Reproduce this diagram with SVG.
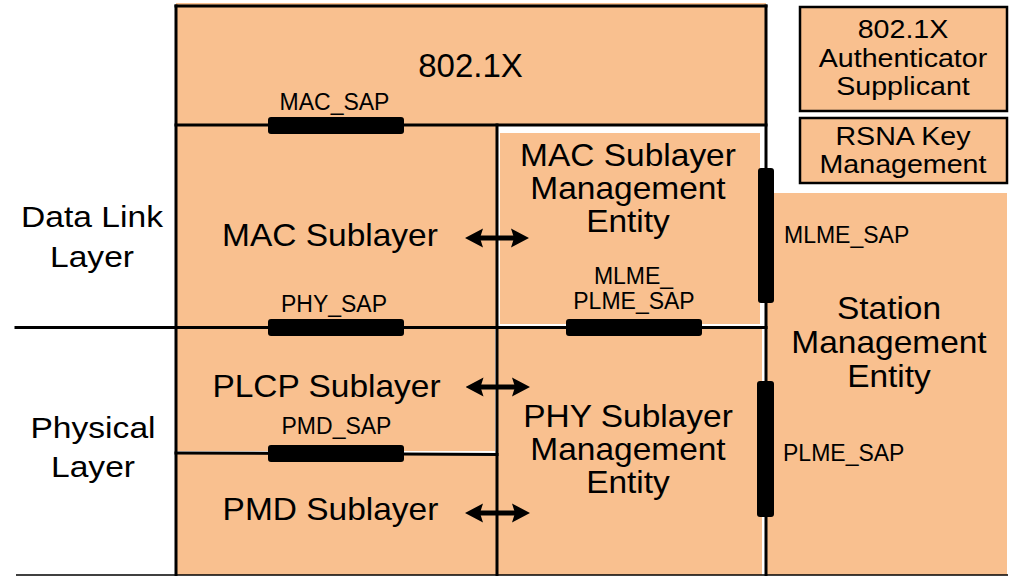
<svg xmlns="http://www.w3.org/2000/svg" width="1010" height="576" viewBox="0 0 1010 576">
<style>
.fill{fill:#F9C08F}
.frame line{stroke:#000;stroke-width:3;stroke-linecap:square}
.box{fill:#F9C08F;stroke:#000;stroke-width:2.5}
text{font-family:"Liberation Sans",Arial,sans-serif;fill:#000;text-anchor:middle}
.big{font-size:31px}
.mid{font-size:26px}
.sm{font-size:23px}
.st{text-anchor:start}
.sap{fill:#000}
.arr{stroke:#000;stroke-width:5;marker-start:url(#ah);marker-end:url(#ah)}
</style>
<defs>
<marker id="ah" markerUnits="userSpaceOnUse" markerWidth="18" markerHeight="20" viewBox="0 0 18 20" refX="8" refY="10" orient="auto-start-reverse">
<path d="M18,10 L0,0.5 L3,10 L0,19.5 Z" fill="#000"/>
</marker>
</defs>
<rect width="1010" height="576" fill="#fff"/>

<g id="dot1x">
<rect class="fill" x="176" y="3" width="590" height="122"/>
<text x="470.5" y="77" style="font-size:33px">802.1X</text>
</g>

<g id="mac-sublayer">
<rect class="fill" x="176" y="125" width="321" height="202"/>
<text class="big" x="330" y="246" transform="matrix(1.08 0 0 1 -26.4 0)">MAC Sublayer</text>
</g>

<g id="mlme">
<rect class="fill" x="500" y="133" width="260" height="191"/>
<text class="big" x="628" transform="matrix(1.08 0 0 1 -50.24 0)"><tspan x="628" y="166.5">MAC Sublayer</tspan><tspan x="628" y="199">Management</tspan><tspan x="628" y="232">Entity</tspan></text>
</g>

<g id="plcp">
<rect class="fill" x="176" y="327" width="319" height="124"/>
<text class="big" x="326.5" y="397" transform="matrix(1.08 0 0 1 -26.12 0)">PLCP Sublayer</text>
</g>

<g id="pmd">
<rect class="fill" x="176" y="453" width="321" height="122"/>
<text class="big" x="330.5" y="520" transform="matrix(1.08 0 0 1 -26.44 0)">PMD Sublayer</text>
</g>

<g id="plme">
<rect class="fill" x="497" y="327" width="265" height="248"/>
<text class="big" x="628" transform="matrix(1.08 0 0 1 -50.24 0)"><tspan x="628" y="427">PHY Sublayer</tspan><tspan x="628" y="460.5">Management</tspan><tspan x="628" y="493">Entity</tspan></text>
</g>

<g id="sme">
<rect class="fill" x="767" y="193" width="240" height="382"/>
<text class="big" x="889" transform="matrix(1.08 0 0 1 -71.12 0)"><tspan x="889" y="319">Station</tspan><tspan x="889" y="353">Management</tspan><tspan x="889" y="387">Entity</tspan></text>
</g>

<g id="auth-supplicant">
<rect class="box" x="800" y="7" width="207" height="104"/>
<text class="mid" x="903" transform="matrix(1.1 0 0 1 -90.3 0)"><tspan x="903" y="38.5">802.1X</tspan><tspan x="903" y="67">Authenticator</tspan><tspan x="903" y="95.5">Supplicant</tspan></text>
</g>

<g id="rsna">
<rect class="box" x="800" y="118" width="207" height="65"/>
<text class="mid" x="903" transform="matrix(1.1 0 0 1 -90.3 0)"><tspan x="903" y="145.5">RSNA Key</tspan><tspan x="903" y="173">Management</tspan></text>
</g>

<g id="layer-labels">
<text style="font-size:30px" x="92" transform="matrix(1.12 0 0 1 -11.04 0)"><tspan x="92" y="227">Data Link</tspan><tspan x="92" y="267">Layer</tspan></text>
<text style="font-size:30px" x="93" transform="matrix(1.12 0 0 1 -11.16 0)"><tspan x="93" y="438">Physical</tspan><tspan x="93" y="477">Layer</tspan></text>
</g>

<g class="frame">
<line x1="176" y1="6" x2="766" y2="6"/>
<line x1="176" y1="6" x2="176" y2="576"/>
<line x1="766" y1="6" x2="766" y2="576"/>
<line x1="176" y1="125" x2="766" y2="125"/>
<line x1="497" y1="125" x2="497" y2="576"/>
<line x1="16" y1="327.5" x2="766" y2="327.5"/>
<line x1="176" y1="453" x2="497" y2="454.5"/>
<line x1="16" y1="575" x2="1008" y2="575" style="stroke-width:1.5;stroke-linecap:butt"/>
</g>

<g id="saps">
<rect class="sap" x="268" y="117" width="136" height="17" rx="3"/>
<text class="sm" x="334.5" y="110">MAC_SAP</text>
<rect class="sap" x="268" y="319" width="136" height="17" rx="3"/>
<text class="sm" x="334" y="312">PHY_SAP</text>
<rect class="sap" x="268" y="445" width="136" height="17" rx="3"/>
<text class="sm" x="336.5" y="434">PMD_SAP</text>
<rect class="sap" x="566" y="319" width="136" height="17" rx="3"/>
<text class="sm" x="633.5" y="284">MLME_</text>
<text class="sm" x="634" y="308.5">PLME_SAP</text>
<rect class="sap" x="758" y="168" width="16" height="135" rx="3"/>
<text class="sm st" x="784" y="243">MLME_SAP</text>
<rect class="sap" x="757" y="381" width="17" height="136" rx="3"/>
<text class="sm st" x="783" y="461">PLME_SAP</text>
</g>

<g id="connectors">
<line class="arr" x1="475" y1="238" x2="519" y2="238"/>
<line class="arr" x1="475.5" y1="387" x2="520" y2="387"/>
<line class="arr" x1="475" y1="513" x2="520" y2="513"/>
</g>
</svg>
